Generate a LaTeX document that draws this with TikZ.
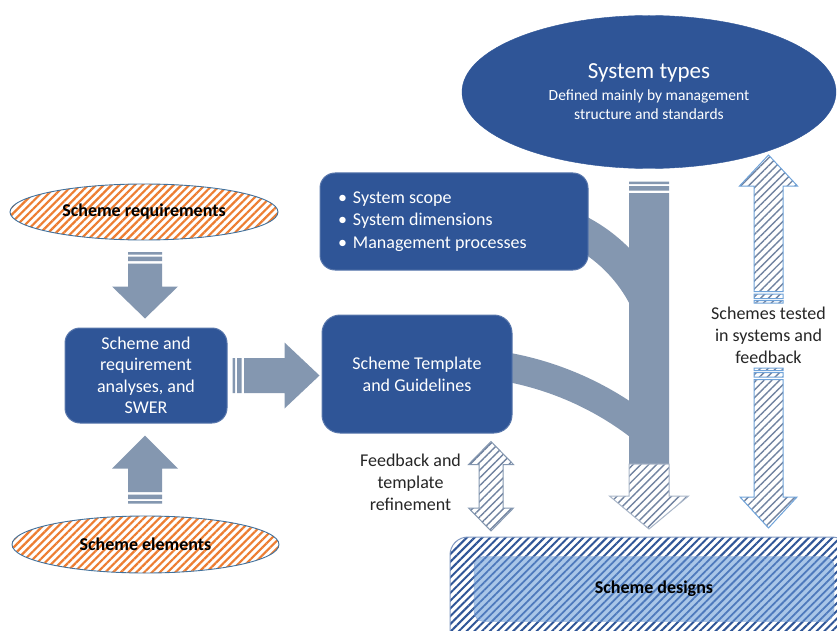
\documentclass[tikz,border=0pt]{standalone}
\usepackage{fontspec}
\setmainfont{Carlito}
\usetikzlibrary{calc,positioning,shapes.geometric,patterns.meta}
\definecolor{SchBlue}{HTML}{2F5597}
\definecolor{SchGray}{HTML}{8497B0}
\definecolor{SchOrange}{HTML}{ED7D31}
\definecolor{SchEdge}{HTML}{41719C}
\definecolor{SchSky}{HTML}{A9C6E8}
\definecolor{SchSkyLine}{HTML}{4D79BC}
\definecolor{SchHatch}{HTML}{7183A0}
\definecolor{SchLight}{HTML}{6FA3DA}
% point at distance #1 along the arrow, #2 off its axis (inside let)
\newcommand\axpt[2]{($(\p1)+(\n1:#1)+(\n1+90:#2)$)}
% tail, tip, half shaft, half head, head length
\newcommand\blockarrow[6][]{%
  \path[#1] let \p1=(#2), \p2=(#3), \p3=($(#3)-(#2)$), \n1={atan2(\y3,\x3)}, \n2={veclen(\x3,\y3)} in
    \axpt{0pt}{#4} -- \axpt{\n2-#6}{#4} -- \axpt{\n2-#6}{#5} -- (\p2)
    -- \axpt{\n2-#6}{-#5} -- \axpt{\n2-#6}{-#4} -- \axpt{0pt}{-#4} -- cycle;}
\newcommand\stripearrow[6][]{%
  \path[#1] let \p1=(#2), \p2=(#3), \p3=($(#3)-(#2)$), \n1={atan2(\y3,\x3)}, \n2={veclen(\x3,\y3)} in
    \axpt{0pt}{#4} -- \axpt{2.5pt}{#4} -- \axpt{2.5pt}{-#4} -- \axpt{0pt}{-#4} -- cycle
    \axpt{4.5pt}{#4} -- \axpt{9pt}{#4} -- \axpt{9pt}{-#4} -- \axpt{4.5pt}{-#4} -- cycle
    \axpt{11.5pt}{#4} -- \axpt{\n2-#6}{#4} -- \axpt{\n2-#6}{#5} -- (\p2)
    -- \axpt{\n2-#6}{-#5} -- \axpt{\n2-#6}{-#4} -- \axpt{11.5pt}{-#4} -- cycle;}
\newcommand\bothways[6][]{%
  \path[#1] let \p1=(#2), \p2=(#3), \p3=($(#3)-(#2)$), \n1={atan2(\y3,\x3)}, \n2={veclen(\x3,\y3)} in
    (\p1) -- \axpt{#6}{#5} -- \axpt{#6}{#4} -- \axpt{\n2-#6}{#4} -- \axpt{\n2-#6}{#5} -- (\p2)
    -- \axpt{\n2-#6}{-#5} -- \axpt{\n2-#6}{-#4} -- \axpt{#6}{-#4} -- \axpt{#6}{-#5} -- cycle;}
\tikzset{
  bluebox/.style={rounded corners=15pt, draw=SchBlue!80!white, fill=SchBlue, line width=1pt, text=white, align=center, inner sep=0pt, font=\fontsize{18}{22}\selectfont},
  orangeoval/.style={ellipse, draw=SchEdge, line width=0.9pt, pattern={Lines[angle=45,distance=5.5pt,line width=2.2pt]}, pattern color=SchOrange, inner sep=0pt, font=\bfseries\fontsize{18}{22}\selectfont},
  grayarrow/.style={fill=SchGray},
  hatcharrow/.style={draw=#1, line width=1pt, preaction={fill=white}, pattern={Lines[angle=45,distance=5.5pt,line width=1.4pt]}, pattern color=SchHatch},
  band/.style={draw=SchGray},
  sidelabel/.style={align=center, text=black!85, font=\fontsize{18}{22}\selectfont},
}
\begin{document}
\begin{tikzpicture}[x=1pt,y=-1pt]
\fill[white] (0,0) rectangle (837,631);
\clip (0,0) rectangle (837,631);
% bands running into the main arrow
\draw[band,line width=33pt] (508,214) arc[start angle=-90, end angle=-25, radius=154];
\draw[band,line width=29pt] (451,362) arc[start angle=-90, end angle=-50, radius=310];

\node[ellipse, fill=SchBlue, draw=SchBlue, minimum width=374pt, minimum height=153pt, inner sep=0pt, text=white, align=center, font=\fontsize{15.5}{19}\selectfont] (systypes) at (649,92)
  {\fontsize{23}{27}\selectfont System types\\[3pt]\fontsize{15.5}{19}\selectfont Defined mainly by management\\\fontsize{15.5}{19}\selectfont structure and standards};
\node[bluebox, minimum height=97pt, inner xsep=18pt, text width=232pt, align=flush left, font=\fontsize{18}{22.5}\selectfont] (scope) at (454,221.5)
  {\textbullet\hspace{6pt}System scope\\\textbullet\hspace{6pt}System dimensions\\\textbullet\hspace{6pt}Management processes};
\node[bluebox, rounded corners=18pt, minimum width=190pt, minimum height=118pt] (tmpl) at (417,374) {Scheme Template\\and Guidelines};
\node[bluebox, minimum width=162pt, minimum height=95pt, font=\fontsize{18}{21.5}\selectfont] (swer) at (146,375.5) {Scheme and\\requirement\\analyses, and\\SWER};
\node[orangeoval, minimum width=268pt, minimum height=56pt] (req) at (144,212) {Scheme requirements};
\node[orangeoval, minimum width=267pt, minimum height=57pt] (elem) at (145.5,544.5) {Scheme elements};
\node[rounded corners=18pt, draw=SchBlue!60!white, line width=1pt, pattern={Lines[angle=45,distance=5.5pt,line width=2pt]}, pattern color=SchBlue, minimum width=400pt, minimum height=110pt] (designs) at (650,592) {};
\node[rounded corners=10pt, draw=SchSkyLine!70, fill=SchSky, postaction={pattern={Lines[angle=45,distance=5.5pt,line width=1.8pt]}, pattern color=SchSkyLine}, minimum width=360pt, minimum height=65pt, font=\bfseries\fontsize{18}{22}\selectfont] (designin) at (654,589) {Scheme designs};

% left column
\coordinate (reqtail) at ($(req.south)+(1,11)$);
\coordinate (reqtip) at ($(swer.north)+(-1,-9)$);
\stripearrow[grayarrow]{reqtail}{reqtip}{17pt}{33pt}{32pt}
\coordinate (elemtail) at ($(elem.north)+(-0.5,-12)$);
\coordinate (elemtip) at ($(swer.south)+(-1,12)$);
\stripearrow[grayarrow]{elemtail}{elemtip}{17pt}{33pt}{33pt}
\coordinate (swertail) at ($(swer.east)+(5,0)$);
\coordinate (swertip) at ($(swer.east -| tmpl.west)+(-2,0)$);
\stripearrow[grayarrow]{swertail}{swertip}{17.5pt}{33pt}{35pt}

% main arrow down to the designs
\coordinate (mtop) at ($(systypes.south)+(0,13)$);
\coordinate (mtip) at ($(designs.north)+(-1,-7)$);
\coordinate (mmid) at ($(mtip)+(0,-65)$);
\stripearrow[grayarrow]{mtop}{mtip}{20pt}{39.5pt}{33pt}
\blockarrow[hatcharrow=SchGray!70]{mmid}{mtip}{20pt}{39.5pt}{33pt}

% feedback arrows
\coordinate (fbtop) at ($(tmpl.south east)+(-21.5,8)$);
\coordinate (fbbot) at ($(fbtop |- designs.north)+(0,-5)$);
\bothways[hatcharrow=SchGray]{fbtop}{fbbot}{12pt}{22.5pt}{23pt}
\node[sidelabel] (fblbl) at (410.5,482) {Feedback and\\template\\refinement};

\coordinate (testup) at (768.5,303);
\coordinate (testuptip) at (768.5,155);
\coordinate (testdn) at (768.5,368);
\coordinate (testdntip) at (768.5,528);
\stripearrow[hatcharrow=SchLight]{testup}{testuptip}{14.5pt}{29pt}{31pt}
\stripearrow[hatcharrow=SchLight]{testdn}{testdntip}{14.5pt}{28.5pt}{31pt}
\node[sidelabel] (testlbl) at (768.5,335) {Schemes tested\\in systems and\\feedback};
\end{tikzpicture}
\end{document}
